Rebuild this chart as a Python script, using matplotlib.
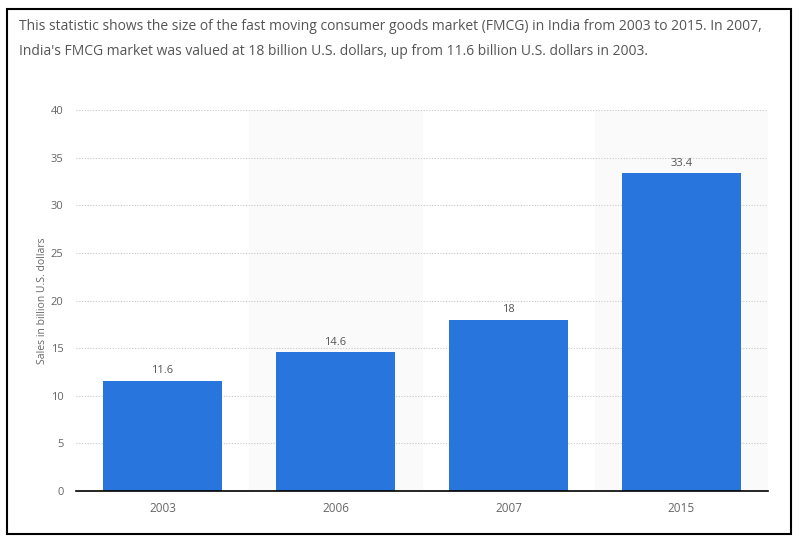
import matplotlib.pyplot as plt
from matplotlib.patches import Rectangle

years = ["2003", "2006", "2007", "2015"]
sales = [11.6, 14.6, 18, 33.4]
labels = ["11.6", "14.6", "18", "33.4"]
yticks = [0, 5, 10, 15, 20, 25, 30, 35, 40]

plt.rcParams['font.family'] = ['Open Sans', 'DejaVu Sans']

fig = plt.figure(figsize=(8, 5.4), dpi=100)
ax = fig.add_axes([0.095, 0.0907, 0.865, 0.7056])

x = range(len(years))
# light shading behind every other column
for i in x:
    if i % 2 == 1:
        ax.axvspan(i - 0.5, i + 0.5, color="#fafafa", zorder=0)

bars = ax.bar(x, sales, width=0.69, color="#2876dd", zorder=3)
for i, v in enumerate(sales):
    ax.annotate(labels[i], (i, v), xytext=(0, 3), textcoords="offset points",
                ha="center", va="bottom", fontsize=8, color="#555555", zorder=4)

ax.set_xlim(-0.5, len(years) - 0.5)
ax.set_ylim(0, 40)
ax.set_yticks(yticks)
ax.set_xticks(list(x))
ax.set_xticklabels(years)
ax.tick_params(axis="both", length=0, labelsize=8, colors="#666666")
ax.tick_params(axis="x", labelsize=8.5)
ax.tick_params(axis="y", pad=9)
ax.tick_params(axis="x", pad=8)
ax.yaxis.grid(True, linestyle=(0, (1, 1.5)), color="#c8c8c8", linewidth=0.8, zorder=1)
for s in ["top", "right", "left"]:
    ax.spines[s].set_visible(False)
ax.spines["bottom"].set_color("#000000")
ax.spines["bottom"].set_linewidth(1.2)
ax.spines["bottom"].set_zorder(5)

ax.set_ylabel("Sales in billion U.S. dollars", fontsize=7.5, color="#666666", labelpad=2)

fig.text(0.024, 0.9645,
         "This statistic shows the size of the fast moving consumer goods market (FMCG) in India from 2003 to 2015. In 2007,\n"
         "India's FMCG market was valued at 18 billion U.S. dollars, up from 11.6 billion U.S. dollars in 2003.",
         fontsize=10, color="#555555", va="top", ha="left", linespacing=1.9)

fig.patches.append(Rectangle((0.009, 0.011), 0.980, 0.972, transform=fig.transFigure,
                             fill=False, edgecolor="#000000", linewidth=1.5))

fig.savefig("out.png", dpi=100)
